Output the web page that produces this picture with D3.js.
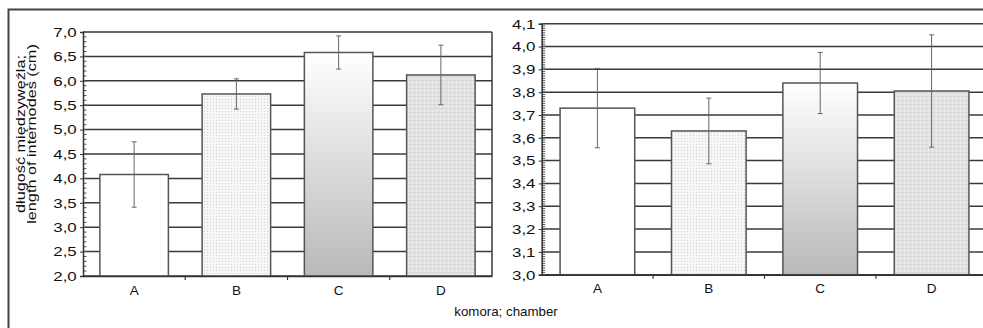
<!DOCTYPE html>
<html>
<head>
<meta charset="utf-8">
<script src="https://cdn.jsdelivr.net/npm/d3@7"></script>
<style>
  body { margin: 0; background: #fff; }
  svg { display: block; font-family: "Liberation Sans", Arial, sans-serif; }
</style>
</head>
<body>
<div id="chart"></div>
<script>
// data
const categories = ["A", "B", "C", "D"];
const internodeMean = [4.08, 5.73, 6.58, 6.12];
const internodeSd = [0.67, 0.31, 0.34, 0.61];
const secondMean = [3.73, 3.63, 3.84, 3.805];
const secondSd = [0.174, 0.144, 0.134, 0.246];
const leftTicks = [2.0, 2.5, 3.0, 3.5, 4.0, 4.5, 5.0, 5.5, 6.0, 6.5, 7.0];
const rightTicks = [3.0, 3.1, 3.2, 3.3, 3.4, 3.5, 3.6, 3.7, 3.8, 3.9, 4.0, 4.1];

const width = 983, height = 328;
const pl = d3.formatLocale({decimal: ",", thousands: " ", grouping: [3], currency: ["", ""]});
const fmt = pl.format(".1f");

const svg = d3.select("#chart").append("svg")
  .attr("width", width).attr("height", height);

const defs = svg.append("defs");
// fine dotted fill (B)
const pb = defs.append("pattern").attr("id", "dots")
  .attr("patternUnits", "userSpaceOnUse").attr("width", 3).attr("height", 3);
pb.append("rect").attr("width", 3).attr("height", 3).attr("fill", "#f6f6f6");
pb.append("rect").attr("width", 1).attr("height", 1).attr("fill", "#d4d4d4");
// gradient (C)
const gc = defs.append("linearGradient").attr("id", "grad")
  .attr("x1", 0).attr("y1", 0).attr("x2", 0).attr("y2", 1);
gc.append("stop").attr("offset", "0%").attr("stop-color", "#ffffff");
gc.append("stop").attr("offset", "100%").attr("stop-color", "#b9b9b9");
// grid fill (D)
const pd = defs.append("pattern").attr("id", "grid")
  .attr("patternUnits", "userSpaceOnUse").attr("width", 4).attr("height", 4);
pd.append("rect").attr("width", 4).attr("height", 4).attr("fill", "#e2e2e2");
pd.append("rect").attr("width", 1).attr("height", 4).attr("fill", "#ececec");
pd.append("rect").attr("width", 4).attr("height", 1).attr("fill", "#d8d8d8");

const fills = ["#ffffff", "url(#dots)", "url(#grad)", "url(#grid)"];

// outer frame
svg.append("rect").attr("x", 8.5).attr("y", 9.5)
  .attr("width", 1000).attr("height", 340)
  .attr("fill", "none").attr("stroke", "#444").attr("stroke-width", 2);

function panel(box, means, sds, ticks, minorStep, domain) {
  const x = d3.scaleBand().domain(categories)
    .range([box.x0, box.x1]).paddingInner(0.33).paddingOuter(0.165);
  const y = d3.scaleLinear().domain(domain).range([box.y1, box.y0]);
  const g = svg.append("g");

  // gridlines
  g.selectAll(".grid").data(ticks).enter().append("line")
    .attr("x1", box.x0).attr("x2", box.x1)
    .attr("y1", d => y(d)).attr("y2", d => y(d))
    .attr("stroke", "#3a3a3a").attr("stroke-width", 1.5);
  // right border
  g.append("line").attr("x1", box.x1).attr("x2", box.x1)
    .attr("y1", y(domain[1])).attr("y2", y(domain[0]))
    .attr("stroke", "#3a3a3a").attr("stroke-width", 1.5);

  // bars
  g.selectAll(".bar").data(categories).enter().append("rect")
    .attr("x", d => x(d)).attr("width", x.bandwidth())
    .attr("y", (d, i) => y(means[i]))
    .attr("height", (d, i) => y(domain[0]) - y(means[i]))
    .attr("fill", (d, i) => fills[i])
    .attr("stroke", "#555").attr("stroke-width", 1.5);

  // error bars
  const eb = g.selectAll(".err").data(categories).enter().append("g")
    .attr("stroke", "#666").attr("stroke-width", 1);
  eb.append("line")
    .attr("x1", d => x(d) + x.bandwidth() / 2).attr("x2", d => x(d) + x.bandwidth() / 2)
    .attr("y1", (d, i) => y(means[i] + sds[i])).attr("y2", (d, i) => y(means[i] - sds[i]));
  [1, -1].forEach(s => {
    eb.append("line")
      .attr("x1", d => x(d) + x.bandwidth() / 2 - 2.5).attr("x2", d => x(d) + x.bandwidth() / 2 + 2.5)
      .attr("y1", (d, i) => y(means[i] + s * sds[i])).attr("y2", (d, i) => y(means[i] + s * sds[i]));
  });

  // y axis with inner minor ticks
  const minor = d3.range(Math.round((domain[1] - domain[0]) / minorStep) + 1)
    .map(i => domain[0] + i * minorStep);
  g.selectAll(".minor").data(minor).enter().append("line")
    .attr("x1", box.x0).attr("x2", box.x0 + 3.5)
    .attr("y1", d => y(d)).attr("y2", d => y(d))
    .attr("stroke", "#555").attr("stroke-width", 1);
  const yAxis = d3.axisLeft(y).tickValues(ticks).tickFormat(fmt).tickSize(3).tickPadding(2);
  const ya = g.append("g").attr("transform", `translate(${box.x0},0)`).call(yAxis);
  ya.attr("font-size", null).attr("font-family", null);
  ya.select(".domain").attr("stroke", "#333").attr("stroke-width", 1.5);
  ya.selectAll(".tick line").attr("stroke", "#333");
  ya.selectAll("text").style("font-size", "13.5px").attr("fill", "#111")
    .attr("transform", "scale(1.25,1)");

  // x axis
  const xAxis = d3.axisBottom(x).tickSize(0).tickPadding(9);
  const xa = g.append("g").attr("transform", `translate(0,${y(domain[0])})`).call(xAxis);
  xa.attr("font-size", null).attr("font-family", null);
  xa.select(".domain").attr("stroke", "#333").attr("stroke-width", 1.5);
  xa.selectAll("text").style("font-size", "13.5px").attr("fill", "#111");
  // category boundary ticks
  g.selectAll(".bt").data(categories.slice(1)).enter().append("line")
    .attr("x1", d => x(d) - x.step() * x.paddingInner() / 2)
    .attr("x2", d => x(d) - x.step() * x.paddingInner() / 2)
    .attr("y1", y(domain[0])).attr("y2", y(domain[0]) + 4)
    .attr("stroke", "#333").attr("stroke-width", 1.2);
}

panel({x0: 83, x1: 492, y0: 32, y1: 276}, internodeMean, internodeSd, leftTicks, 0.1, [2.0, 7.0]);
panel({x0: 541.7, x1: 987.3, y0: 23.7, y1: 274.7}, secondMean, secondSd, rightTicks, 0.01, [3.0, 4.1]);

// titles
const yl = svg.append("text")
  .attr("transform", "translate(25,134) rotate(-90) scale(1.25,1)")
  .attr("text-anchor", "middle").style("font-size", "13px").attr("fill", "#111");
yl.append("tspan").attr("x", 0).attr("dy", "0").text("długość międzywęźla;");
yl.append("tspan").attr("x", 0).attr("dy", "11px").text("length of internodes (cm)");

svg.append("text").attr("x", 506).attr("y", 316)
  .attr("text-anchor", "middle").style("font-size", "13.3px").attr("fill", "#111")
  .text("komora; chamber");
</script>
</body>
</html>
